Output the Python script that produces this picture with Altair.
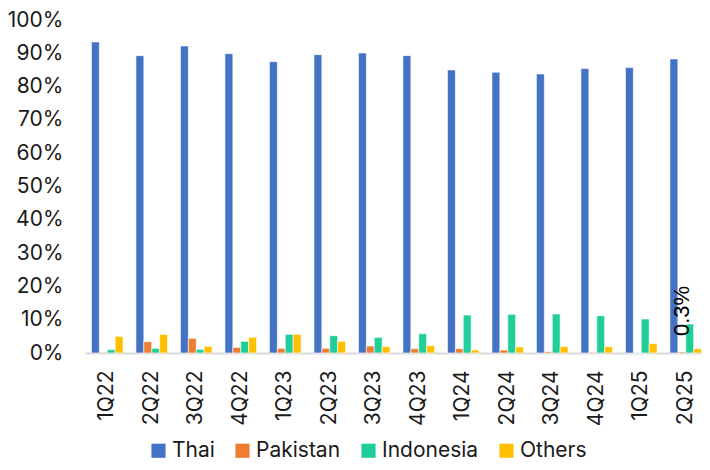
import altair as alt
import pandas as pd

quarters = ["1Q22", "2Q22", "3Q22", "4Q22", "1Q23", "2Q23", "3Q23", "4Q23",
            "1Q24", "2Q24", "3Q24", "4Q24", "1Q25", "2Q25"]
series = ["Thai", "Pakistan", "Indonesia", "Others"]
colors = ["#4472C4", "#ED7D31", "#20CE99", "#FFC000"]

thai = [93.4, 89.3, 92.2, 89.9, 87.5, 89.6, 90.1, 89.3, 85.0, 84.3, 83.8, 85.4, 85.7, 88.3]
pakistan = [0.2, 3.4, 4.4, 1.7, 1.4, 1.4, 2.1, 1.3, 1.3, 0.9, 0.4, 0.2, 0.0, 0.3]
indonesia = [1.0, 1.4, 1.1, 3.5, 5.6, 5.2, 4.7, 5.8, 11.4, 11.6, 11.7, 11.2, 10.2, 8.7]
others = [5.0, 5.6, 2.0, 4.7, 5.6, 3.5, 1.9, 2.2, 0.9, 1.8, 1.9, 1.9, 2.8, 1.3]
y_ticks = [0.0, 0.1, 0.2, 0.3, 0.4, 0.5, 0.6, 0.7, 0.8, 0.9, 1.0]

annot_quarter = "2Q25"
annot_series = "Pakistan"

rows = []
for name, vals in zip(series, [thai, pakistan, indonesia, others]):
    for q, v in zip(quarters, vals):
        rows.append({"quarter": q, "series": name, "value": v / 100.0})
df = pd.DataFrame(rows)

FONT = "Inter"
FS = 21

x_axis = alt.Axis(labelAngle=-90, labelFontSize=FS, labelFont=FONT,
                  labelColor="#1a1a1a", ticks=False, labelPadding=17,
                  domainColor="#d9d9d9", domainWidth=2,
                  labelAlign="right", labelBaseline="middle",
                  labelOverlap=False)
y_axis = alt.Axis(format=".0%", values=y_ticks,
                  labelFontSize=FS, labelFont=FONT, labelColor="#1a1a1a",
                  ticks=False, domain=False, grid=False, labelPadding=22,
                  labelOverlap=False)
# the axis line runs on to the right edge of the picture, as in the reference
x_scale = alt.Scale(paddingInner=0.29, paddingOuter=0.145, range=[0, 623])
y_scale = alt.Scale(domain=[0, 1], nice=False)


def x_enc():
    return alt.X("quarter:N", sort=quarters, title=None, scale=x_scale, axis=x_axis)


def y_enc():
    return alt.Y("value:Q", title=None, scale=y_scale, axis=y_axis)


def xoff_enc():
    return alt.XOffset("series:N", sort=series,
                       scale=alt.Scale(paddingInner=0, paddingOuter=0))


bars = alt.Chart(df).mark_bar(stroke="white", strokeWidth=0.6).encode(
    x=x_enc(),
    xOffset=xoff_enc(),
    y=y_enc(),
    color=alt.Color("series:N", sort=series,
                    scale=alt.Scale(domain=series, range=colors),
                    legend=alt.Legend(orient="none", direction="horizontal",
                                      legendX=63, legendY=420, title=None,
                                      symbolType="square", symbolSize=200,
                                      symbolStrokeWidth=0, labelFontSize=FS,
                                      labelFont=FONT, labelColor="#1a1a1a",
                                      labelOffset=3, columnPadding=17)),
)

annot_df = df[(df["quarter"] == annot_quarter) & (df["series"] == annot_series)].copy()
annot_df["label"] = annot_df["value"].map(lambda v: f"{v*100:.1f}%")

text = alt.Chart(annot_df).mark_text(angle=270, align="left", baseline="middle",
                                     dx=16, fontSize=22, font="Liberation Sans",
                                     color="#000000").encode(
    x=x_enc(),
    xOffset=xoff_enc(),
    y=y_enc(),
    text="label:N",
)

chart = alt.layer(bars, text).properties(
    width=617, height=333,
    autosize=alt.AutoSizeParams(type="none"),
    padding={"left": 77, "top": 12, "right": 0, "bottom": 108},
).configure_view(stroke=None).configure_axis(labelOverlap=False)

chart.save("out.html", embed_options={"renderer": "svg", "actions": False})
